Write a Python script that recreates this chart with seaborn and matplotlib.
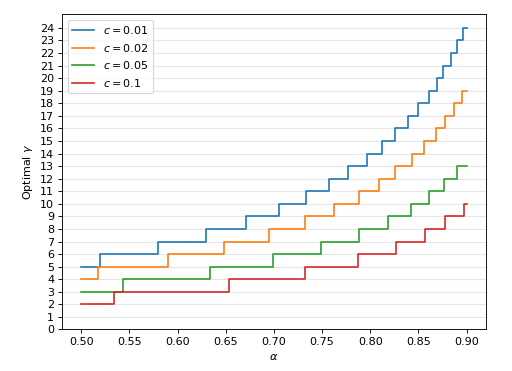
import numpy as np
import pandas as pd
import seaborn as sns
import matplotlib as mpl
import matplotlib.pyplot as plt

# === DATA ===
alpha_min, alpha_max = 0.50, 0.90
c_labels = ['$c=0.01$', '$c=0.02$', '$c=0.05$', '$c=0.1$']
gamma_start = [5, 4, 3, 2]

# alpha at which optimal gamma jumps up by one
jumps_c001 = [0.519, 0.580, 0.630, 0.671, 0.705, 0.733, 0.757, 0.777, 0.797,
              0.812, 0.826, 0.839, 0.850, 0.861, 0.869, 0.876, 0.884, 0.890, 0.896]
jumps_c002 = [0.517, 0.590, 0.6485, 0.695, 0.732, 0.762, 0.788, 0.809, 0.826,
              0.843, 0.856, 0.868, 0.878, 0.887, 0.895]
jumps_c005 = [0.543, 0.634, 0.699, 0.749, 0.788, 0.818, 0.842, 0.861, 0.877, 0.890]
jumps_c01 = [0.534, 0.653, 0.732, 0.787, 0.827, 0.857, 0.878, 0.897]
jumps = [jumps_c001, jumps_c002, jumps_c005, jumps_c01]

# === BUILD TABLE ===
rows = []
for lab, g0, js in zip(c_labels, gamma_start, jumps):
    xs = [alpha_min] + js + [alpha_max]
    ys = [g0 + k for k in range(len(js) + 1)] + [g0 + len(js)]
    for x, y in zip(xs, ys):
        rows.append({'alpha': x, 'gamma': y, 'c': lab})
df = pd.DataFrame(rows)

# === FIGURE ===
fig = plt.figure(figsize=(6.4, 371 / 80), dpi=80)
ax = fig.add_axes([0.121, 0.112, 0.828, 0.850])

for i, lab in enumerate(c_labels):
    sns.lineplot(data=df[df['c'] == lab], x='alpha', y='gamma',
                 color=f'C{i}', label=lab, estimator=None,
                 drawstyle='steps-post', ax=ax)

ax.set_ylim(bottom=0)
ax.set_yticks(np.arange(0, 25, 1))
ax.set_xticks(np.arange(0.50, 0.901, 0.05))
ax.yaxis.grid(True, color='#e6e6e6', linewidth=1)
ax.set_axisbelow(True)

ax.set_xlabel(r'$\alpha$')
ax.set_ylabel(r'Optimal $\gamma$')
ax.legend(loc='upper left')

fig.savefig('out.png', dpi=80)
